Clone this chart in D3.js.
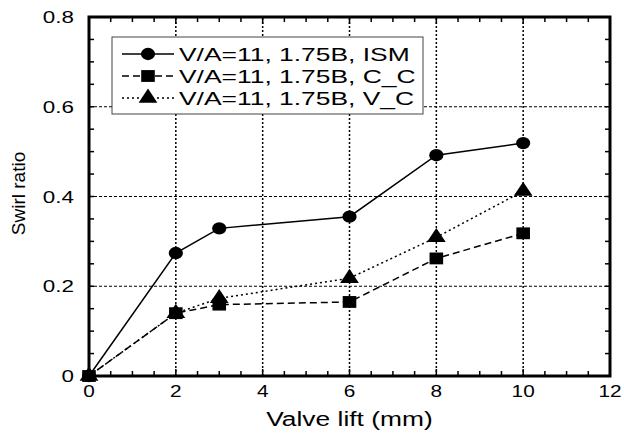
<!DOCTYPE html>
<html>
<head>
<meta charset="utf-8">
<script src="https://cdn.jsdelivr.net/npm/d3@7"></script>
<style>
  body { margin: 0; background: white; }
  text { font-family: Arial, "Liberation Sans", sans-serif; }
</style>
</head>
<body>
<svg id="chart" width="624" height="436"></svg>
<script>
// valve lift (mm) and swirl ratio per series
const lift_ism = [0, 2, 3, 6, 8, 10];
const swirl_ism = [0, 0.274, 0.329, 0.355, 0.492, 0.519];
const lift_cc = [0, 2, 3, 6, 8, 10];
const swirl_cc = [0, 0.14, 0.159, 0.165, 0.262, 0.318];
const lift_vc = [0, 2, 3, 6, 8, 10];
const swirl_vc = [0, 0.14, 0.173, 0.218, 0.309, 0.412];
const seriesNames = ["V/A=11, 1.75B, ISM", "V/A=11, 1.75B, C_C", "V/A=11, 1.75B, V_C"];
const xTicks = [0, 2, 4, 6, 8, 10, 12];
const yTicks = [0, 0.2, 0.4, 0.6, 0.8];

const svg = d3.select("#chart");
const margin = { left: 89, right: 14, top: 17, bottom: 60 };
const W = 624, H = 436;

const x = d3.scaleLinear().domain([0, 12]).range([margin.left, W - margin.right]);
const y = d3.scaleLinear().domain([0, 0.8]).range([H - margin.bottom, margin.top]);

// text in the original looks stretched sideways, so stretch with a scale
function label(g, tx, ty, str, size, sx, anchor) {
  return g.append("text")
    .attr("transform", `translate(${tx},${ty}) scale(${sx},1)`)
    .attr("text-anchor", anchor)
    .attr("font-size", size)
    .text(str);
}

// grid
svg.append("g").selectAll("line").data(xTicks.slice(1, -1)).join("line")
  .attr("x1", d => x(d)).attr("x2", d => x(d))
  .attr("y1", y(0)).attr("y2", y(0.8))
  .attr("stroke", "black").attr("stroke-width", 1.5).attr("stroke-dasharray", "2,2");
svg.append("g").selectAll("line").data(yTicks.slice(1, -1)).join("line")
  .attr("x1", x(0)).attr("x2", x(12))
  .attr("y1", d => y(d)).attr("y2", d => y(d))
  .attr("stroke", "black").attr("stroke-width", 1.2).attr("stroke-dasharray", "3,2");

// minor ticks on all four sides, pointing inward
const xMinor = d3.range(0, 12.01, 0.5);
const yMinor = d3.range(0, 0.801, 0.05);
const ticks = svg.append("g").attr("stroke", "black").attr("stroke-width", 1.5);
xMinor.forEach(v => {
  const len = xTicks.includes(v) ? 7 : 5;
  ticks.append("line").attr("x1", x(v)).attr("x2", x(v)).attr("y1", y(0)).attr("y2", y(0) - len);
  ticks.append("line").attr("x1", x(v)).attr("x2", x(v)).attr("y1", y(0.8)).attr("y2", y(0.8) + len);
});
yMinor.forEach(v => {
  const len = 5;
  ticks.append("line").attr("x1", x(0)).attr("x2", x(0) + len).attr("y1", y(v)).attr("y2", y(v));
  ticks.append("line").attr("x1", x(12)).attr("x2", x(12) - len).attr("y1", y(v)).attr("y2", y(v));
});

// frame
svg.append("rect")
  .attr("x", x(0)).attr("y", y(0.8))
  .attr("width", x(12) - x(0)).attr("height", y(0) - y(0.8))
  .attr("fill", "none").attr("stroke", "black").attr("stroke-width", 3);

// tick labels
const tl = svg.append("g");
xTicks.forEach(d => label(tl, x(d), y(0) + 21, d, 16, 1.3, "middle"));
yTicks.forEach(d => label(tl, x(0) - 15, y(d) + 6, d === 0 ? "0" : d.toFixed(1), 16, 1.4, "end"));

// axis titles
label(svg, x(6), 426, "Valve lift (mm)", 20, 1.32, "middle");
svg.append("text").attr("transform", `translate(25,${y(0.4) - 3}) rotate(-90)`)
  .attr("text-anchor", "middle").attr("font-size", 19).text("Swirl ratio");

// series
const series = [
  { xs: lift_ism, ys: swirl_ism, dash: null, marker: "circle" },
  { xs: lift_cc, ys: swirl_cc, dash: "7,4", marker: "square" },
  { xs: lift_vc, ys: swirl_vc, dash: "2,3", marker: "triangle" }
];
const symbols = {
  circle: d3.symbol().type(d3.symbolCircle).size(120),
  square: d3.symbol().type(d3.symbolSquare).size(140),
  triangle: d3.symbol().type(d3.symbolTriangle).size(115)
};
const line = d3.line().x(d => x(d[0])).y(d => y(d[1]));

series.forEach(s => {
  const pts = s.xs.map((v, i) => [v, s.ys[i]]);
  svg.append("path").datum(pts).attr("d", line)
    .attr("fill", "none").attr("stroke", "black").attr("stroke-width", 1.5)
    .attr("stroke-dasharray", s.dash);
  svg.append("g").selectAll("path").data(pts).join("path")
    .attr("d", symbols[s.marker])
    .attr("transform", d => `translate(${x(d[0])},${y(d[1])}) scale(1.15,1)`)
    .attr("fill", "black");
});

// legend
const legend = svg.append("g");
legend.append("rect").attr("x", 112).attr("y", 37).attr("width", 311).attr("height", 77)
  .attr("fill", "white").attr("stroke", "#444").attr("stroke-width", 1);
series.forEach((s, i) => {
  const ly = 54 + i * 22;
  legend.append("line").attr("x1", 122).attr("x2", 174).attr("y1", ly).attr("y2", ly)
    .attr("stroke", "black").attr("stroke-width", 1.5).attr("stroke-dasharray", s.dash);
  legend.append("path").attr("d", symbols[s.marker])
    .attr("transform", `translate(148,${ly}) scale(1.15,1)`).attr("fill", "black");
  label(legend, 179, ly + 7, seriesNames[i], 19, 1.39, "start");
});
</script>
</body>
</html>
